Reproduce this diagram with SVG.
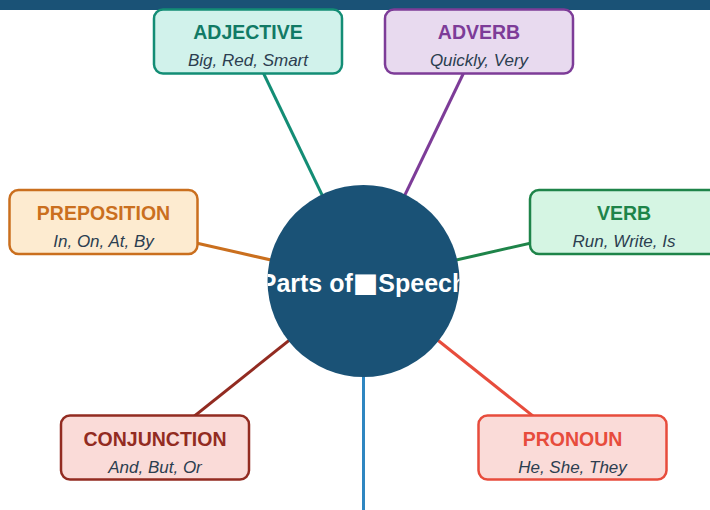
<svg xmlns="http://www.w3.org/2000/svg" width="710" height="510" viewBox="0 0 710 510">
<defs>
<clipPath id="circClip"><circle cx="363.5" cy="281" r="96"/></clipPath>
</defs>
<style>
.box{stroke-width:2.5}
.title{font-family:"Liberation Sans",Arial,sans-serif;font-weight:bold;font-size:19.5px;text-anchor:middle}
.sub{font-family:"Liberation Sans",Arial,sans-serif;font-style:italic;font-size:17px;text-anchor:middle;fill:#2c3e50}
.conn line{stroke-width:3;fill:none}
</style>
<rect width="710" height="510" fill="#ffffff"/>
<g id="connectors" class="conn">
<line x1="363.5" y1="281" x2="248" y2="41" stroke="#138d75"/>
<line x1="363.5" y1="281" x2="479" y2="41" stroke="#7d3c98"/>
<line x1="363.5" y1="281" x2="103.5" y2="222" stroke="#ca6f1e"/>
<line x1="363.5" y1="281" x2="624" y2="222" stroke="#1e8449"/>
<line x1="363.5" y1="281" x2="155" y2="447.5" stroke="#922b21"/>
<line x1="363.5" y1="281" x2="572.5" y2="447.5" stroke="#e74c3c"/>
<line x1="363.5" y1="281" x2="363.5" y2="515" stroke="#2e86c1"/>
</g>
<rect id="topbar" x="0" y="0" width="710" height="10" fill="#1a5276"/>
<g id="center">
<circle cx="363.5" cy="281" r="96" fill="#1a5276"/>
<text x="363.5" y="292" clip-path="url(#circClip)" font-family="'Liberation Sans',Arial,sans-serif" font-weight="bold" font-size="25" fill="#ffffff" text-anchor="middle">Parts of<tspan font-size="27" font-family="'DejaVu Sans',sans-serif">■</tspan>Speech</text>
</g>
<g id="adjective">
<rect class="box" x="154" y="9.5" width="188" height="64" rx="9" fill="#d1f2eb" stroke="#138d75"/>
<text class="title" x="248" y="39" fill="#117a65">ADJECTIVE</text>
<text class="sub" x="248" y="66">Big, Red, Smart</text>
</g>
<g id="adverb">
<rect class="box" x="385" y="9.5" width="188" height="64" rx="9" fill="#e8daef" stroke="#7d3c98"/>
<text class="title" x="479" y="39" fill="#7d3c98">ADVERB</text>
<text class="sub" x="479" y="66">Quickly, Very</text>
</g>
<g id="preposition">
<rect class="box" x="9.5" y="190" width="188" height="64" rx="9" fill="#fdebd0" stroke="#ca6f1e"/>
<text class="title" x="103.5" y="220" fill="#ca6f1e">PREPOSITION</text>
<text class="sub" x="103.5" y="247">In, On, At, By</text>
</g>
<g id="verb">
<rect class="box" x="530" y="190" width="188" height="64" rx="9" fill="#d5f5e3" stroke="#1e8449"/>
<text class="title" x="624" y="220" fill="#1e8449">VERB</text>
<text class="sub" x="624" y="247">Run, Write, Is</text>
</g>
<g id="conjunction">
<rect class="box" x="61" y="415.5" width="188" height="64" rx="9" fill="#fadbd8" stroke="#922b21"/>
<text class="title" x="155" y="445.5" fill="#922b21">CONJUNCTION</text>
<text class="sub" x="155" y="472.5">And, But, Or</text>
</g>
<g id="pronoun">
<rect class="box" x="478.5" y="415.5" width="188" height="64" rx="9" fill="#fadbd8" stroke="#e74c3c"/>
<text class="title" x="572.5" y="445.5" fill="#e74c3c">PRONOUN</text>
<text class="sub" x="572.5" y="472.5">He, She, They</text>
</g>
</svg>
